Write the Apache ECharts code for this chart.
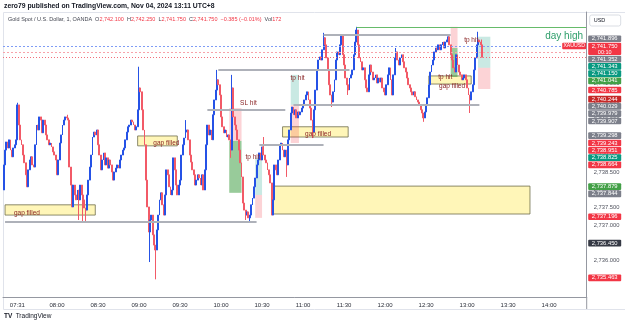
<!DOCTYPE html>
<html><head><meta charset="utf-8">
<script src="https://cdn.jsdelivr.net/npm/echarts@6/dist/echarts.min.js"></script>
<style>html,body{margin:0;padding:0;background:#fff}#c{width:625px;height:326px}</style>
</head><body><div id="c"></div>
<script>
// ---------- data ----------
const startMinute = 7 * 60 + 21;      // first candle 07:21
const slotCount = 427;                // axis runs to 14:27
const timeTicks = ['07:31','08:00','08:30','09:00','09:30','10:00','10:30','11:00','11:30','12:00','12:30','13:00','13:30','14:00'];
const plainTicks = [2735.5,2736.0,2736.5,2737.0,2737.5,2738.0,2738.5,2739.0,2739.5,2740.0,2740.5,2741.0,2741.5,2742.0];
const firstOpen = 2737.99;
const closes = [
2738.70,2739.12,2739.35,2739.18,2739.41,2739.12,2738.93,2739.18,2739.27,2739.41,
2740.40,2739.83,2739.41,2739.27,2738.98,2738.76,2738.42,2738.08,2738.56,2738.84,
2738.93,2738.70,2738.64,2739.27,2739.83,2739.69,2740.06,2739.97,2739.61,2739.97,
2739.83,2739.55,2739.41,2739.27,2739.32,2739.21,2739.07,2738.98,2738.84,2738.42,
2738.84,2739.32,2739.55,2739.83,2739.97,2740.06,2740.03,2739.97,2738.64,2738.13,
2737.51,2738.13,2737.85,2737.71,2737.99,2737.71,2738.13,2737.85,2737.71,2737.48,
2737.42,2737.85,2738.27,2738.64,2738.98,2739.49,2739.63,2739.55,2739.69,2739.27,
2738.98,2738.56,2738.84,2739.04,2738.70,2738.90,2738.61,2738.84,2738.70,2738.50,
2738.27,2738.50,2738.61,2738.70,2738.61,2738.84,2738.98,2739.12,2739.18,2739.41,
2739.63,2739.78,2739.83,2739.97,2739.92,2739.83,2739.69,2739.78,2740.26,2740.88,
2740.77,2740.26,2739.69,2739.27,2738.27,2737.51,2736.80,2737.14,2737.28,2736.72,
2736.43,2736.29,2736.86,2737.28,2737.71,2737.91,2737.57,2737.28,2737.85,2738.56,
2738.42,2738.08,2737.85,2737.99,2738.90,2738.56,2738.13,2737.85,2738.13,2738.27,
2738.98,2739.27,2739.46,2739.63,2739.69,2739.41,2738.98,2738.78,2738.56,2738.42,
2738.13,2738.27,2738.42,2738.33,2738.13,2738.42,2737.99,2738.56,2739.27,2739.83,
2739.55,2739.69,2739.41,2740.12,2740.54,2740.82,2741.11,2740.97,2740.68,2740.06,
2739.78,2739.61,2739.69,2739.49,2739.55,2739.41,2739.12,2740.88,2740.06,2739.83,
2739.69,2739.41,2739.12,2738.76,2738.36,2737.62,2737.42,2737.28,2737.37,2737.20,
2737.28,2737.57,2737.76,2738.08,2738.33,2738.70,2738.84,2739.04,2738.84,2739.21,
2738.98,2738.84,2738.76,2738.56,2738.42,2738.19,2737.28,2737.71,2738.70,2738.56,
2738.42,2738.84,2739.27,2739.32,2739.12,2738.93,2739.12,2738.70,2739.41,2739.69,
2740.17,2740.34,2740.12,2740.26,2740.03,2740.20,2740.12,2740.20,2740.31,2740.40,
2740.54,2740.68,2740.77,2740.54,2740.31,2739.97,2739.63,2740.26,2740.82,2741.39,
2741.67,2741.76,2741.67,2741.96,2742.30,2742.10,2741.73,2741.39,2740.97,2740.68,
2740.48,2740.77,2741.11,2741.67,2741.90,2741.82,2742.10,2742.35,2741.82,2741.53,
2741.16,2740.97,2740.82,2741.16,2741.25,2741.39,2741.82,2742.18,2742.52,2742.10,
2741.73,2741.62,2741.39,2741.45,2741.11,2740.88,2740.77,2741.25,2741.53,2741.33,
2741.11,2741.16,2741.25,2741.02,2741.16,2741.05,2741.16,2740.88,2740.77,2740.68,
2740.97,2741.25,2741.45,2741.11,2740.68,2741.25,2741.73,2741.90,2741.67,2741.53,
2741.73,2741.82,2741.62,2741.45,2741.33,2741.16,2740.97,2740.88,2740.77,2740.68,
2740.77,2740.63,2740.54,2740.48,2740.40,2740.26,2740.17,2740.03,2740.20,2740.40,
2740.60,2740.97,2741.33,2741.53,2741.67,2741.90,2742.01,2741.96,2742.10,2741.96,
2742.10,2742.18,2742.01,2742.18,2742.24,2742.33,2742.10,2741.82,2741.67,2741.45,
2741.33,2741.82,2741.53,2741.33,2741.25,2741.11,2741.16,2741.25,2741.11,2740.88,
2740.68,2740.54,2740.77,2740.97,2741.39,2741.73,2742.10,2742.24,2742.18,2742.10,
2741.75
];
const wickHighs = [[10,2740.46],[47,2740.12],[99,2741.48],[133,2739.97],[156,2741.39],[167,2741.25],[190,2739.49],[234,2742.44],[258,2742.61],[287,2742.01],[347,2742.47],[350,2742.25]];
const wickLows = [[55,2737.14],[58,2737.08],[60,2737.08],[107,2735.95],[111,2735.46],[166,2738.90],[177,2737.14],[180,2737.08],[207,2738.36],[226,2739.46],[240,2740.34],[252,2740.68],[307,2739.92],[341,2740.17]];

// drawn horizontal levels: [from, to, price]
const levels = [
  ['07:22','10:26',2737.08],
  ['09:58','11:34',2741.39],
  ['09:50','10:47',2740.26],
  ['10:53','13:09',2740.40],
  ['10:28','11:15',2739.27],
  ['11:15','12:48',2742.38]
];
const dayHigh = ['11:39','14:27',2742.61];
// yellow "gap" boxes: [from, to, top, bottom]
const gapBoxes = [
  ['07:22','08:28',2737.57,2737.28],
  ['08:59','09:28',2739.52,2739.24],
  ['10:45','11:33',2739.78,2739.49],
  ['10:38','13:46',2738.10,2737.31],
  ['12:32','13:03',2741.22,2740.99]
];
// position tools: [from, to, top, mid, bottom, kind]
const positions = [
  ['10:06','10:15',2740.31,2739.38,2737.91,'short'],
  ['10:25','10:30',2738.90,2737.85,2737.20,'long'],
  ['10:51','10:57',2741.25,2740.40,2739.32,'long'],
  ['12:48','12:53',2742.61,2742.01,2741.19,'short'],
  ['13:08','13:17',2742.33,2741.45,2740.85,'long']
];
const notes = [
  ['SL hit','10:20',2740.46],
  ['tp hit','10:23',2738.93],
  ['tp hit','10:56',2741.16],
  ['gap filled','07:38',2737.34],
  ['gap filled','09:20',2739.32],
  ['gap filled','11:11',2739.58],
  ['tp hit','12:44',2741.19],
  ['gap filled','12:49',2740.94],
  ['tp hit','13:03',2742.24]
];
const priceLines = [[2742.07,'blue'],[2741.896,'red'],[2741.75,'last']];
const tagPrices = [2741.896,2741.750,2741.352,2741.343,2741.150,2741.041,2740.785,2740.244,2740.029,2739.979,2739.907,2739.298,2739.243,2738.951,2738.825,2738.664,2737.879,2737.844,2737.196,2736.450,2735.463];
const tagKinds  = ['grey','last','grey','teal','teal','green','red','darkred','grey','grey','grey','grey','red','red','teal','red','green','grey','red','dark','red'];
const countdown = '00:10';

// ---------- styles ----------
const FONT = 'Liberation Sans, Arial, sans-serif';
const UP = '#2552e6', DOWN = '#f25a67';
const TAG_COLORS = {grey:'#7c7f8a', last:'#f23645', teal:'#089981', green:'#43a047', red:'#f23645', darkred:'#c62828', dark:'#363a45'};
const NOTE_COLOR = '#8a2424';

const pad = n => String(n).padStart(2,'0');
const categories = [];
for (let k = 0; k < slotCount; k++) { const m = startMinute + k; categories.push(pad(Math.floor(m/60)) + ':' + pad(m % 60)); }
const fmt = v => { const s = Number(v).toFixed(3).split('.'); return s[0].replace(/\B(?=(\d{3})+(?!\d))/g, ',') + '.' + s[1]; };

const hiMap = new Map(wickHighs), loMap = new Map(wickLows);
const ohlc = closes.map((c, i) => {
  const o = i === 0 ? firstOpen : closes[i-1];
  let h = Math.max(o, c), l = Math.min(o, c);
  if (hiMap.has(i)) h = Math.max(h, hiMap.get(i));
  if (loMap.has(i)) l = Math.min(l, loMap.get(i));
  return [o, c, l, h];
});

const markLineData = [];
levels.forEach(([a,b,p]) => markLineData.push([{coord:[a,p], lineStyle:{color:'#aeb1b9', width:2, type:'solid'}}, {coord:[b,p]}]));
markLineData.push([{coord:[dayHigh[0],dayHigh[2]], lineStyle:{color:'#66bb6a', width:1, type:'solid'},
  label:{show:true, position:'insideEndBottom', formatter:'day high', color:'#2e9e6a', fontSize:10, fontFamily:FONT, distance:[3,4]}}, {coord:[dayHigh[1],dayHigh[2]]}]);
priceLines.forEach(([p,k]) => markLineData.push({yAxis:p, lineStyle: k==='blue' ? {color:'#7f9cf5', width:1, type:[2,2]} : k==='red' ? {color:'#f7a3aa', width:1, type:[2,2]} : {color:'#f26d78', width:1, type:[1,2]}}));

const markAreaData = [];
gapBoxes.forEach(([a,b,t,btm]) => markAreaData.push([{xAxis:a, yAxis:t, itemStyle:{color:'#fff6b8', borderColor:'#6f6d4c', borderWidth:0.8}}, {xAxis:b, yAxis:btm}]));
positions.forEach(([a,b,t,m,btm,k]) => {
  const green = k === 'short' ? 'rgba(67,160,71,0.55)' : 'rgba(8,153,129,0.22)';
  const red = 'rgba(242,54,69,0.22)';
  markAreaData.push([{xAxis:a, yAxis:t, itemStyle:{color: k==='long' ? green : red}}, {xAxis:b, yAxis:m}]);
  markAreaData.push([{xAxis:a, yAxis:m, itemStyle:{color: k==='long' ? red : green}}, {xAxis:b, yAxis:btm}]);
});

const markPointData = notes.map(([t,x,p]) => ({coord:[x,p], value:t, symbol:'circle', symbolSize:0.1,
  itemStyle:{color:'rgba(0,0,0,0)'},
  label:{show:true, position:'inside', formatter:t, color:NOTE_COLOR, fontSize:6.5, fontFamily:FONT}}));

const chart = echarts.init(document.getElementById('c'), null, {renderer:'canvas'});
const option = {
  animation:false,
  backgroundColor:'#ffffff',
  grid:{left:3, right:38.3, top:12, bottom:29},
  xAxis:{type:'category', data:categories, boundaryGap:true,
    axisLine:{lineStyle:{color:'#9598a1', width:1}}, axisTick:{show:false}, splitLine:{show:false},
    axisLabel:{interval:(idx,val)=>timeTicks.includes(val), fontSize:6, color:'#2a2e39', margin:5, fontFamily:FONT}},
  yAxis:{type:'value', position:'right', min:2734.96, max:2743.03,
    axisLine:{show:true, lineStyle:{color:'#9598a1', width:1}}, axisTick:{show:false}, splitLine:{show:false},
    axisLabel:{customValues:plainTicks, formatter:fmt, fontSize:5.8, color:'#50535e', margin:7, fontFamily:FONT}},
  series:[{
    type:'candlestick', data:ohlc, barWidth:1.4, clip:true,
    itemStyle:{color:UP, color0:DOWN, borderColor:UP, borderColor0:DOWN, borderWidth:1},
    markArea:{silent:true, z:1, data:markAreaData, label:{show:false}},
    markLine:{silent:true, symbol:['none','none'], label:{show:false}, data:markLineData, animation:false},
    markPoint:{silent:true, z:10, data:markPointData, animation:false}
  }]
};
chart.setOption(option);

// ---------- price tags on the scale (stacked like TradingView) ----------
const axisX = 625 - 38.3;
const gfx = [];
const TAG_H = 7.3;
const order = tagPrices.map((p,k)=>k).sort((a,b)=>tagPrices[a]-tagPrices[b]);
let prevTop = Infinity;
order.forEach(k => {
  const kind = tagKinds[k];
  const h = kind === 'last' ? 13 : TAG_H;
  const yNat = chart.convertToPixel({yAxisIndex:0}, tagPrices[k]);
  let top = yNat - TAG_H/2 - 1;
  if (top + h > prevTop) top = prevTop - h;
  prevTop = top;
  gfx.push({type:'rect', z:100, shape:{x:axisX+1.5, y:top, width:33, height:h-0.6, r:1}, style:{fill:TAG_COLORS[kind]}});
  gfx.push({type:'text', z:101, style:{x:axisX+18, y:top+3.3, text:fmt(tagPrices[k]), fill:'#fff', fontSize:5.8, fontFamily:FONT, align:'center', verticalAlign:'middle'}});
  if (kind === 'last') {
    gfx.push({type:'text', z:101, style:{x:axisX+18, y:top+9.5, text:countdown, fill:'#fff', fontSize:5.5, fontFamily:FONT, align:'center', verticalAlign:'middle'}});
    gfx.push({type:'rect', z:100, shape:{x:axisX-24.5, y:top, width:24, height:6.5, r:1}, style:{fill:'#f23645'}});
    gfx.push({type:'text', z:101, style:{x:axisX-12.5, y:top+3.3, text:'XAUUSD', fill:'#fff', fontSize:5.2, fontFamily:FONT, align:'center', verticalAlign:'middle'}});
  }
});
// frame and header
gfx.push({type:'rect', z:0, shape:{x:3.5, y:12.5, width:622, height:297}, style:{fill:'none', stroke:'#e0e3eb', lineWidth:1}});
gfx.push({type:'line', z:5, shape:{x1:axisX, y1:297, x2:axisX, y2:309}, style:{stroke:'#9598a1', lineWidth:1}});
gfx.push({type:'rect', z:100, shape:{x:axisX+3, y:15, width:31, height:11, r:2}, style:{fill:'#fff', stroke:'#d1d4dc', lineWidth:0.8}});
gfx.push({type:'text', z:101, style:{x:axisX+7, y:20.5, text:'USD', fill:'#131722', fontSize:5.5, fontFamily:FONT, verticalAlign:'middle'}});
gfx.push({type:'text', z:101, style:{x:4, y:6, text:'zero79 published on TradingView.com, Nov 04, 2024 13:11 UTC+8', fill:'#131722', fontSize:6.8, fontWeight:'bold', fontFamily:FONT, verticalAlign:'middle'}});
gfx.push({type:'text', z:101, style:{x:8, y:19.5, fontSize:5.5, fontFamily:FONT, verticalAlign:'middle',
  text:'{g|Gold Spot / U.S. Dollar, 1, OANDA  }{g|O}{r|2,742.100  }{g|H}{r|2,742.250  }{g|L}{r|2,741.750  }{g|C}{r|2,741.750  −0.385 (−0.01%)  }{g|Vol}{r|172}',
  rich:{g:{fill:'#434651', fontSize:5.5, fontFamily:FONT}, r:{fill:'#f23645', fontSize:5.5, fontFamily:FONT}}}});
gfx.push({type:'text', z:101, style:{x:4, y:316, fontFamily:FONT, verticalAlign:'middle',
  text:'{b|TV} {t|TradingView}', rich:{b:{fontSize:6.5, fontWeight:'bold', fill:'#131722', fontFamily:FONT}, t:{fontSize:6.5, fill:'#131722', fontFamily:FONT}}}});
chart.setOption({graphic:gfx});
</script></body></html>
